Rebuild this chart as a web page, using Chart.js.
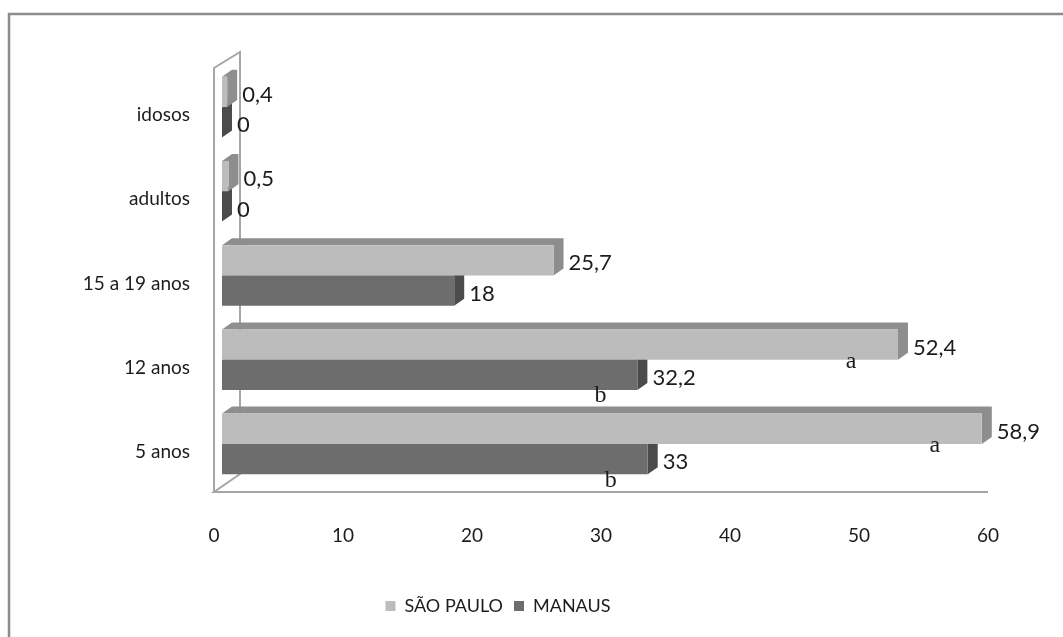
<!DOCTYPE html>
<html>
<head>
<meta charset="utf-8">
<script src="https://cdn.jsdelivr.net/npm/chart.js@4.4.0/dist/chart.umd.min.js"></script>
<style>
  body { margin: 0; background: #fff; }
</style>
</head>
<body>
<canvas id="grafico" width="1063" height="637"></canvas>
<script>
// categorias de cima para baixo
var categorias = ['idosos', 'adultos', '15 a 19 anos', '12 anos', '5 anos'];
var saoPaulo = [0.4, 0.5, 25.7, 52.4, 58.9];
var manaus = [0, 0, 18, 32.2, 33];
var letrasSP = ['', '', '', 'a', 'a'];
var letrasManaus = ['', '', '', 'b', 'b'];
var ticksX = [0, 10, 20, 30, 40, 50, 60];

var DX = 10, DY = 7;            // profundidade das barras
var corTexto = '#1c1c1c';
var fonteEixo = "Lato, sans-serif";

function virgula(v) { return String(v).replace('.', ','); }

var efeito3d = {
  id: 'efeito3d',
  beforeDraw: function (chart) {
    var c = chart.ctx;
    c.save();
    c.fillStyle = '#fff';
    c.fillRect(0, 0, chart.width, chart.height);
    c.strokeStyle = '#8c8c8c';
    c.lineWidth = 2.5;
    c.strokeRect(9, 14, chart.width + 20, chart.height + 20);
    c.restore();
  },
  beforeDatasetsDraw: function (chart) {
    var c = chart.ctx, a = chart.chartArea;
    var fim = chart.scales.x.getPixelForValue(60) - 8;
    c.save();
    // parede lateral e piso
    c.strokeStyle = '#a6a6a6';
    c.lineWidth = 2;
    c.beginPath();
    c.moveTo(a.left - 8, a.bottom + 6);
    c.lineTo(a.left - 8, a.top + 3);
    c.lineTo(a.left + 18, a.top - 13);
    c.lineTo(a.left + 18, a.bottom - 12);
    c.lineTo(a.left - 8, a.bottom + 6);
    c.lineTo(fim, a.bottom + 6);
    c.stroke();
    // faces de cima e lateral, por baixo das faces frontais
    var sombras = ['#8e8e8e', '#4b4b4b'];
    for (var d = chart.data.datasets.length - 1; d >= 0; d--) {
      chart.getDatasetMeta(d).data.forEach(function (bar) {
        var p = bar.getProps(['x', 'y', 'base', 'height'], true);
        var topo = p.y - p.height / 2, baixo = p.y + p.height / 2;
        c.fillStyle = sombras[d];
        c.beginPath();
        c.moveTo(p.base, topo);
        c.lineTo(p.base + DX, topo - DY);
        c.lineTo(p.x + DX, topo - DY);
        c.lineTo(p.x + DX, baixo - DY);
        c.lineTo(p.x, baixo);
        c.lineTo(p.x, topo);
        c.closePath();
        c.fill();
      });
    }
    c.restore();
  },
  afterDatasetsDraw: function (chart) {
    var c = chart.ctx;
    var deslocLetra = [[-47, 2], [-37, 6]];
    c.save();
    chart.data.datasets.forEach(function (ds, d) {
      chart.getDatasetMeta(d).data.forEach(function (bar, i) {
        var p = bar.getProps(['x', 'y', 'height'], true);
        c.font = '22px Lato';
        c.fillStyle = corTexto;
        c.textAlign = 'left';
        c.textBaseline = 'middle';
        c.fillText(virgula(ds.data[i]), p.x + DX + 5, p.y + 3);
        if (ds.letras[i]) {
          c.font = '24px "Liberation Serif"';
          c.textAlign = 'center';
          c.fillText(ds.letras[i], p.x + deslocLetra[d][0], p.y + p.height / 2 + deslocLetra[d][1]);
        }
      });
    });
    c.restore();
  }
};

new Chart(document.getElementById('grafico'), {
  type: 'bar',
  data: {
    labels: categorias,
    datasets: [
      { label: 'SÃO PAULO', data: saoPaulo, letras: letrasSP, backgroundColor: '#bcbcbc',
        borderWidth: 0, categoryPercentage: 0.72, barPercentage: 1 },
      { label: 'MANAUS', data: manaus, letras: letrasManaus, backgroundColor: '#6d6d6d',
        borderWidth: 0, categoryPercentage: 0.72, barPercentage: 1 }
    ]
  },
  options: {
    indexAxis: 'y',
    responsive: false,
    animation: false,
    layout: { padding: { left: 0, top: 65, right: 67, bottom: 12 } },
    plugins: {
      tooltip: { enabled: false },
      legend: {
        position: 'bottom',
        labels: { boxWidth: 10, boxHeight: 10, padding: 11, color: corTexto,
                  font: { family: fonteEixo, size: 18 } }
      }
    },
    scales: {
      x: {
        min: 0, max: 60,
        afterBuildTicks: function (s) { s.ticks = ticksX.map(function (v) { return { value: v }; }); },
        afterFit: function (s) { s.height = 100; },
        grid: { display: false, drawTicks: false },
        border: { display: false },
        ticks: { padding: 38, labelOffset: -8, color: corTexto, font: { family: fonteEixo, size: 19 } }
      },
      y: {
        afterFit: function (s) { s.width = 222; },
        grid: { display: false, drawTicks: false },
        border: { display: false },
        ticks: { padding: 32, labelOffset: 8, color: corTexto, font: { family: fonteEixo, size: 19 } }
      }
    }
  },
  plugins: [efeito3d]
});
</script>
</body>
</html>
